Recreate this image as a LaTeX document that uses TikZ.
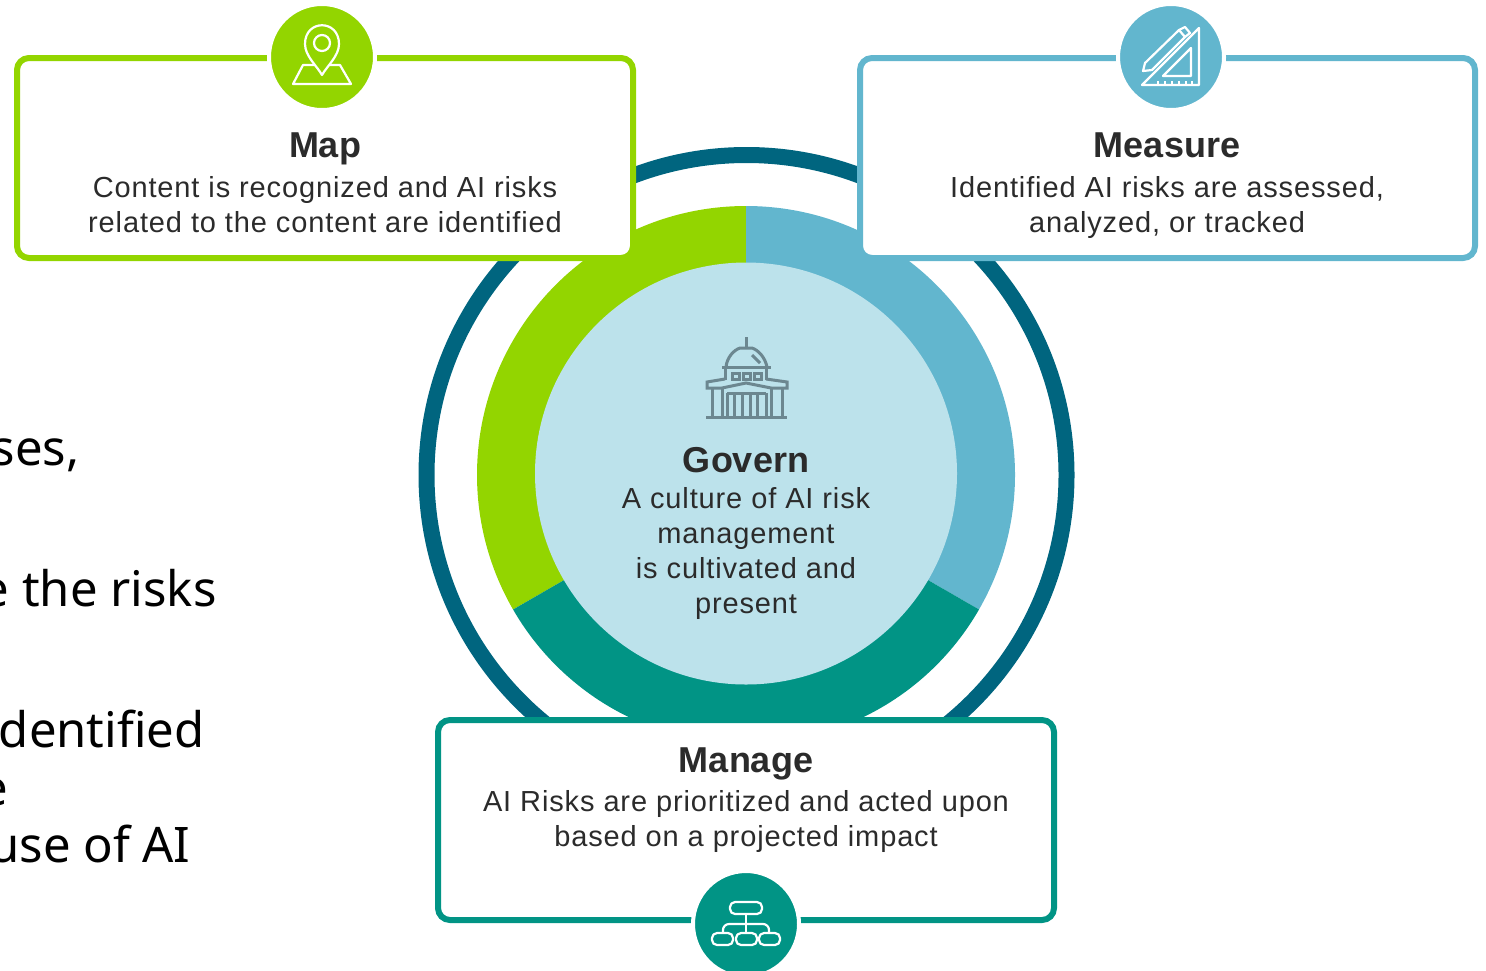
\documentclass[tikz,border=0pt]{standalone}
\usepackage{fontspec}
\setmainfont{Liberation Sans}
\newfontfamily\cardfont{Liberation Sans}[LetterSpace=3]
\newfontfamily\sidefont{Noto Sans}
\definecolor{cgreen}{HTML}{93D500}
\definecolor{cblue}{HTML}{62B6CE}
\definecolor{cteal}{HTML}{019485}
\definecolor{cring}{HTML}{00657F}
\definecolor{cpale}{HTML}{BCE2EB}
\definecolor{cicon}{HTML}{6C8790}
\definecolor{ctext}{HTML}{2B2B2B}
\tikzset{
  cardbox/.style={draw=#1,line width=3pt,fill=white,rounded corners=6pt},
  badge/.style={circle,fill=#1,draw=white,line width=2pt,minimum size=53pt,inner sep=0pt},
  ttl/.style={font=\fontsize{18}{21}\selectfont\bfseries,text=ctext,anchor=center},
  body/.style={font=\cardfont\fontsize{14.5}{17.5}\selectfont,text=ctext,align=center,anchor=center},
  side/.style={font=\sidefont\fontsize{24.5}{28}\selectfont,text=black,anchor=base east,inner sep=0pt},
  iconline/.style={draw=white,line width=1.1pt,line join=round,fill=none},
  govline/.style={draw=cicon,line width=1.5pt,line join=miter,fill=none}
}
\begin{document}
\begin{tikzpicture}[x=0.5pt,y=-0.5pt]
\useasboundingbox (0,0) rectangle (1486,970);
% outer ring
\draw[cring,line width=8pt] (746.5,475) circle (320);
% donut sectors
\fill[cgreen] (746,475) -- (746,206) arc (-90:-210:269) -- cycle;
\fill[cblue] (746,475) -- (746,206) arc (-90:30:269) -- cycle;
\fill[cteal] (746,475) -- (979,609.5) arc (30:150:269) -- cycle;
\node[circle,fill=cpale,minimum size=211pt,inner sep=0pt] (core) at (746,473.5) {};
% cards
\draw[cardbox=cgreen] (17,58) rectangle (633,258);
\draw[cardbox=cblue] (860,58) rectangle (1475,258);
\draw[cardbox=cteal] (438,720) rectangle (1054,920);
% gaps + badges
\fill[white] (268,50) rectangle (376,66);
\fill[white] (1117,50) rectangle (1225,66);
\fill[white] (692,912) rectangle (800,928);
\node[badge=cgreen] (mapbadge) at (322,57) {};
\node[badge=cblue] (measurebadge) at (1171,57) {};
\node[badge=cteal] (managebadge) at (746,924) {};
% map icon
\begin{scope}[shift={(322,57)}]
\draw[iconline] (-7,8) -- (-19,8) -- (-29,27) -- (29,27) -- (18,8) -- (7,8);
\draw[iconline] (0,18) .. controls (-5,9) and (-17,-1) .. (-17,-13) .. controls (-17,-38) and (17,-38) .. (17,-13) .. controls (17,-1) and (5,9) .. (0,18) -- cycle;
\draw[iconline] (0,-14) circle (8);
\end{scope}
% measure icon
\begin{scope}[shift={(1171,57)}]
\draw[iconline] (28,-29) -- (28,28) -- (-29,28) -- cycle;
\draw[iconline] (20,-9) -- (20,19) -- (-8,19) -- cycle;
\draw[iconline] (-26,6) -- (8,-27) -- (14,-20) -- (-19,13) -- (-28,14) -- cycle;
\draw[iconline] (8,-27) -- (14,-30) -- (19,-24) -- (14,-20);
\foreach \x in {-13,-6,1,8,15,21} \draw[iconline] (\x,28) -- (\x,24);
\end{scope}
% manage icon
\begin{scope}[shift={(746,924)}]
\draw[iconline,rounded corners=2.5pt] (-16,-22) rectangle (16,-10);
\draw[iconline,rounded corners=2.5pt] (-34,9) rectangle (-13,21);
\draw[iconline,rounded corners=2.5pt] (-10,9) rectangle (11,21);
\draw[iconline,rounded corners=2.5pt] (13,9) rectangle (34,21);
\draw[iconline] (0,-10) -- (0,9);
\draw[iconline,rounded corners=3pt] (-23,9) -- (-23,0) -- (23,0) -- (23,9);
\end{scope}
% govern icon
\begin{scope}[shift={(746,378)}]
\draw[govline] (-40,39) -- (41,39);
\draw[govline] (0,-41) -- (0,-30);
\draw[govline] (-20,-11) .. controls (-19,-21) and (-12,-28) .. (-6,-30) -- (6,-30) .. controls (12,-28) and (19,-21) .. (21,-11);
\draw[govline] (6,-23) -- (14,-15);
\draw[govline] (-24,-11) -- (25,-11);
\draw[govline] (-21,-11) -- (-21,2);
\draw[govline] (20,-11) -- (20,2);
\draw[govline] (-14,-5) rectangle (-7,1);
\draw[govline] (-3,-5) rectangle (4,1);
\draw[govline] (8,-5) rectangle (15,1);
\draw[govline] (-21,1) -- (-39,4) -- (-39,10) -- (-24,10);
\draw[govline] (20,1) -- (41,4) -- (41,10) -- (25,10);
\draw[govline] (-24,10) -- (0,5) -- (25,10);
\draw[govline] (-24,10) -- (-24,39);
\draw[govline] (25,10) -- (25,39);
\draw[govline] (-34,10) -- (-34,39);
\draw[govline] (36,10) -- (36,39);
\draw[govline] (-19,15) -- (20,15);
\foreach \x in {-19,-12,-4,4,11,20} \draw[govline] (\x,15) -- (\x,39);
\end{scope}
% texts
\node[ttl] (maptitle) at (325,149) {Map};
\node[body] (maptext) at (325,205) {Content is recognized and AI risks\\related to the content are identified};
\node[ttl] (meastitle) at (1167,145) {Measure};
\node[body] (meastext) at (1167,207) {Identified AI risks are assessed,\\analyzed, or tracked};
\node[ttl] (govtitle) at (746,460) {Govern};
\node[body] (govtext) at (746,553) {A culture of AI risk\\management\\is cultivated and\\present};
\node[ttl] (mantitle) at (746,764) {Manage};
\node[body] (mantext) at (746,821) {AI Risks are prioritized and acted upon\\based on a projected impact};
% cropped side text
\node[side] (s1) at (80,465) {ses,};
\node[side] (s2) at (217,606) {e the risks};
\node[side] (s3) at (205,747) {dentified};
\node[side] (s4) at (9,805) {e};
\node[side] (s5) at (191,862) {use of AI};
\end{tikzpicture}
\end{document}
